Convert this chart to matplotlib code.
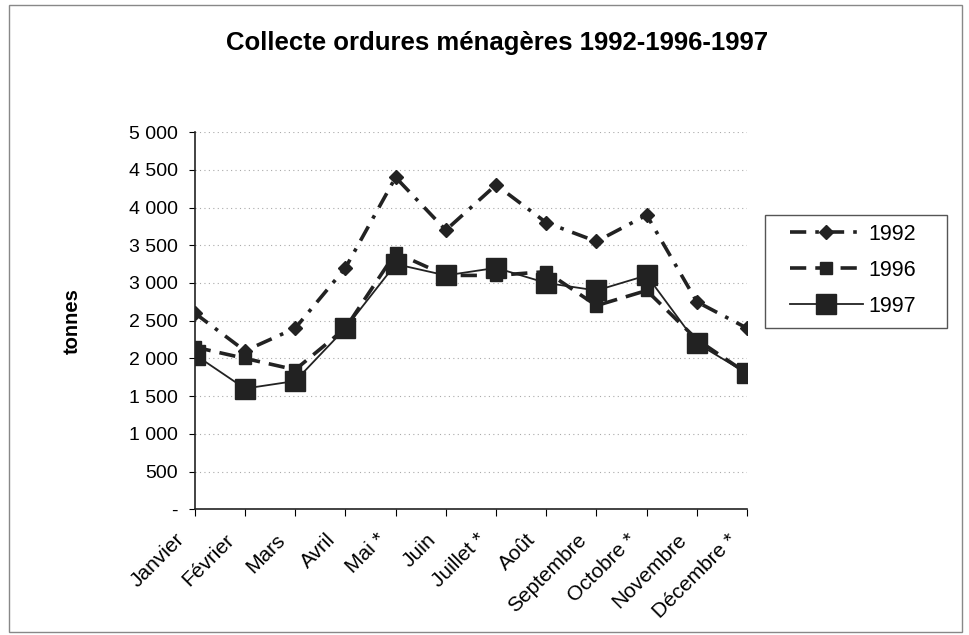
import matplotlib
matplotlib.use("Agg")
import matplotlib.pyplot as plt
from matplotlib.patches import Rectangle
from matplotlib.ticker import FuncFormatter
from matplotlib.transforms import ScaledTranslation

plt.rcParams['font.family'] = ['Liberation Sans', 'DejaVu Sans']

months = ["Janvier", "Février", "Mars", "Avril", "Mai *", "Juin", "Juillet *",
          "Août", "Septembre", "Octobre *", "Novembre", "Décembre *"]
t1992 = [2600, 2100, 2400, 3200, 4400, 3700, 4300, 3800, 3550, 3900, 2750, 2400]
t1996 = [2150, 2000, 1850, 2400, 3400, 3100, 3100, 3150, 2700, 2900, 2250, 1800]
t1997 = [2050, 1600, 1700, 2400, 3250, 3100, 3200, 3000, 2900, 3100, 2200, 1800]

ink = "#222222"

fig = plt.figure(figsize=(9.69, 6.35), dpi=100)
ax = fig.add_axes([0.201, 0.198, 0.570, 0.594])

x = range(len(months))
ax.plot(x, t1992, color=ink, lw=2.6, dashes=(4.5, 2.5, 1, 2.5), marker='D',
        ms=7, label="1992")
ax.plot(x, t1996, color=ink, lw=2.6, dashes=(4.5, 2.5), marker='s', ms=9,
        label="1996")
ax.plot(x, t1997, color=ink, lw=1.3, ls='-', marker='s', ms=15,
        label="1997")

ax.set_xlim(0, 11)
ax.set_ylim(0, 5000)
ax.set_yticks(range(0, 5001, 500))


def fmt(v, pos):
    if v == 0:
        return "-"
    return "{:,}".format(int(v)).replace(",", " ")


ax.yaxis.set_major_formatter(FuncFormatter(fmt))
ax.set_xticks(list(x))
ax.set_xticklabels(months, rotation=45, ha='right', rotation_mode='anchor',
                   fontsize=15)
ax.tick_params(axis='y', labelsize=14, length=4, pad=8)
ax.tick_params(axis='x', length=5, pad=10)
shift = ScaledTranslation(-0.20, 0, fig.dpi_scale_trans)
for lab in ax.get_xticklabels():
    lab.set_transform(lab.get_transform() + shift)

ax.grid(axis='y', color='#aaaaaa', ls=(0, (1, 3)), lw=0.8)
for s in ['top', 'right']:
    ax.spines[s].set_visible(False)
for s in ['left', 'bottom']:
    ax.spines[s].set_color(ink)
    ax.spines[s].set_linewidth(1.2)

ax.set_ylabel("tonnes", fontsize=14.5, fontweight='bold', labelpad=34)
fig.text(0.513, 0.933, "Collecte ordures ménagères 1992-1996-1997",
         ha='center', va='center', fontsize=18.5, fontweight='bold')

# legend entries without frame, box drawn separately (wide Excel-style box)
leg = fig.legend(loc='upper left', bbox_to_anchor=(0.815, 0.6475),
                 fontsize=15.5, frameon=False, handlelength=3.4,
                 labelspacing=0.70, borderpad=0, handletextpad=0.25,
                 borderaxespad=0)
fig.patches.append(Rectangle((0.789, 0.483), 0.188, 0.178,
                             transform=fig.transFigure, fill=False,
                             ec='#555555', lw=1.0))

fig.patches.append(Rectangle((0.009, 0.005), 0.984, 0.987,
                             transform=fig.transFigure, fill=False,
                             ec='#888888', lw=1.0))

fig.savefig("out.png", dpi=100)
